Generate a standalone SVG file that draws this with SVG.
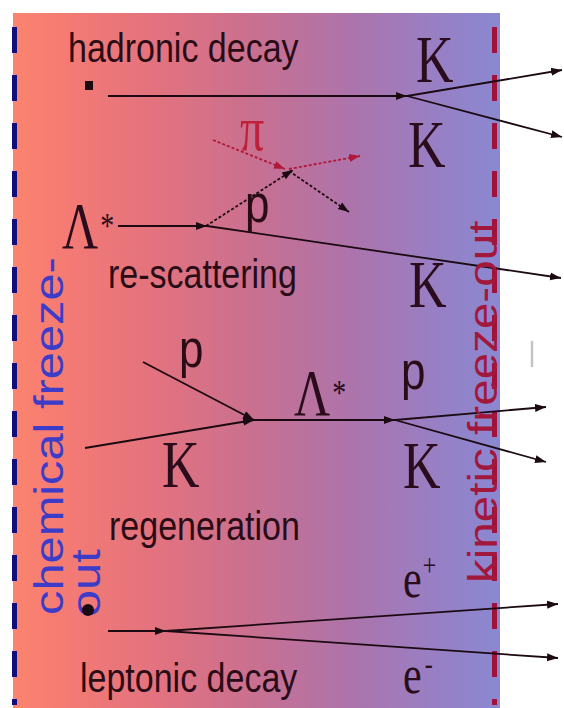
<svg xmlns="http://www.w3.org/2000/svg" width="564" height="708" viewBox="0 0 564 708">
<defs>
<linearGradient id="bg" gradientUnits="userSpaceOnUse" x1="14" y1="0" x2="500" y2="0">
<stop offset="0" stop-color="#fa846f"/>
<stop offset="0.08" stop-color="#f77c72"/>
<stop offset="0.3" stop-color="#e2727f"/>
<stop offset="0.5" stop-color="#c87091"/>
<stop offset="0.7" stop-color="#ac74ac"/>
<stop offset="0.85" stop-color="#9a7ec2"/>
<stop offset="1" stop-color="#8a88d2"/>
</linearGradient>
<marker id="ah" markerUnits="userSpaceOnUse" markerWidth="12" markerHeight="10" refX="11" refY="5" orient="auto">
<path d="M0,1 L11,5 L0,9 z" fill="#1c0a12"/>
</marker>
<marker id="ahr" markerUnits="userSpaceOnUse" markerWidth="12" markerHeight="10" refX="11" refY="5" orient="auto">
<path d="M0,1 L11,5 L0,9 z" fill="#b0183a"/>
</marker>
</defs>
<style>
.ln{fill:none;stroke:#1c0a12;stroke-width:1.8;marker-end:url(#ah)}
.dot{stroke-dasharray:3 2}
.red{fill:none;stroke:#b0183a;stroke-width:1.8;stroke-dasharray:3 2;marker-end:url(#ahr)}
.sans{font-family:"Liberation Sans",Arial,sans-serif;fill:#2a0c16}
.serif{font-family:"Liberation Serif","Times New Roman",serif;fill:#2a0c1c}
.lbl{font-size:34px}
.big{font-size:52px}
.lam{font-size:50px}
.pp{font-size:44px}
.ee{font-size:42px}
</style>
<rect x="13" y="13" width="487" height="695" fill="url(#bg)"/>
<line x1="14.5" y1="27" x2="14.5" y2="705" stroke="#10107a" stroke-width="5" stroke-dasharray="26 22"/>
<line x1="494.5" y1="27" x2="494.5" y2="705" stroke="#a01238" stroke-width="5" stroke-dasharray="26 22"/>
<line x1="532" y1="341" x2="532" y2="367" stroke="#c4c4c4" stroke-width="2.5"/>

<g id="connectors">
<path class="ln" d="M108,96 L407,96"/>
<path class="ln" d="M407,96 L562,70"/>
<path class="ln" d="M407,96 L562,137"/>
<path class="red" d="M213,140 L285,169"/>
<path class="red" d="M289,169 L360,156"/>
<path class="ln dot" d="M289,171 L349,212"/>
<path class="ln dot" d="M206,226 L293,170"/>
<path class="ln" d="M118,226 L207,226"/>
<path class="ln" d="M207,226 L561,278"/>
<path class="ln" d="M143,362 L254,420"/>
<path class="ln" d="M85,448 L254,420"/>
<path class="ln" d="M254,420 L395,420"/>
<path class="ln" d="M395,420 L546,407"/>
<path class="ln" d="M395,420 L546,462"/>
<path class="ln" d="M108,631 L166,631"/>
<path class="ln" d="M166,631 L558,604"/>
<path class="ln" d="M166,631 L558,658"/>
</g>

<g id="chemical-freeze-out">
<text class="sans" font-size="41" style="fill:#3c3cc8" transform="translate(63,615) scale(1,1.19) rotate(-90)">chemical freeze-</text>
<text class="sans" font-size="41" style="fill:#3c3cc8" transform="translate(100,617) scale(1,1.19) rotate(-90)">out</text>
</g>
<g id="kinetic-freeze-out">
<text class="sans" font-size="40" style="fill:#a2183c" transform="translate(497,583) scale(1,1.19) rotate(-90)">kinetic freeze-out</text>
</g>

<g id="hadronic-decay">
<text class="sans lbl" transform="translate(68,62) scale(1,1.19)">hadronic decay</text>
<rect x="85" y="81" width="8" height="9" fill="#1c0a12"/>
</g>
<g id="rescattering">
<text class="sans lbl" transform="translate(108,288) scale(1,1.19)">re-scattering</text>
</g>
<g id="regeneration">
<text class="sans lbl" transform="translate(109,540) scale(1,1.19)">regeneration</text>
</g>
<g id="leptonic-decay">
<text class="sans lbl" transform="translate(80,692) scale(1,1.19)">leptonic decay</text>
<circle cx="88" cy="610" r="6" fill="#1c0a12"/>
</g>

<g id="K1"><text class="serif big" transform="translate(416,82) scale(1,1.3)">K</text></g>
<g id="K2"><text class="serif big" transform="translate(408,167) scale(1,1.3)">K</text></g>
<g id="K3"><text class="serif big" transform="translate(409,307) scale(1,1.3)">K</text></g>
<g id="K4"><text class="serif big" transform="translate(162,487) scale(1,1.3)">K</text></g>
<g id="K5"><text class="serif big" transform="translate(403,488) scale(1,1.3)">K</text></g>

<g id="Lambda1"><text class="serif lam" transform="translate(62,248) scale(1,1.3)">Λ<tspan font-size="28" dx="2" dy="-8">*</tspan></text></g>
<g id="Lambda2"><text class="serif lam" transform="translate(294,415) scale(1,1.3)">Λ<tspan font-size="28" dx="2" dy="-8">*</tspan></text></g>

<g id="pi"><text class="serif" font-size="48" style="fill:#c0203a" transform="translate(240,150) scale(1,1.3)">π</text></g>

<g id="p1"><text class="sans pp" transform="translate(245,222) scale(1,1.19)">p</text></g>
<g id="p2"><text class="sans pp" transform="translate(179,367) scale(1,1.19)">p</text></g>
<g id="p3"><text class="sans pp" transform="translate(401,389) scale(1,1.19)">p</text></g>

<g id="eplus"><text class="serif ee" transform="translate(403,597) scale(1,1.3)">e<tspan font-size="24" dx="1" dy="-16">+</tspan></text></g>
<g id="eminus"><text class="serif ee" transform="translate(403,693) scale(1,1.3)">e<tspan font-size="24" dx="3" dy="-15">-</tspan></text></g>
</svg>
